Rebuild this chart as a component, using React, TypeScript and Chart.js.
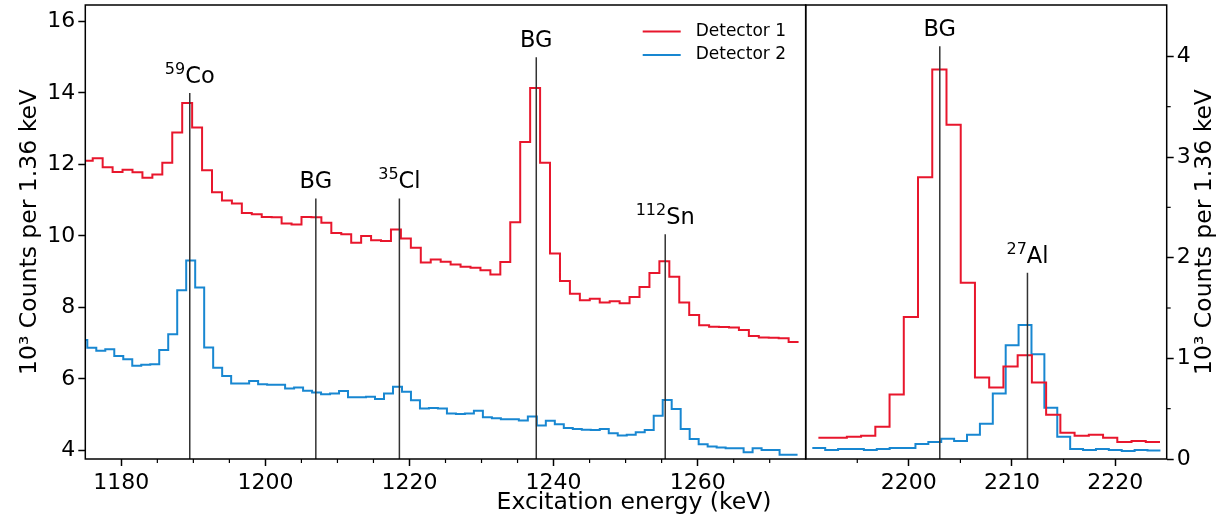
import React, { useEffect, useRef } from 'react';
import { Chart, registerables } from 'chart.js';

Chart.register(...registerables);

const FONT = "'DejaVu Sans', 'Liberation Sans', sans-serif";
const RED = '#e8162c';
const BLUE = '#1887d1';
const MARK = '#333333';

// ---------- Left panel data (keV, 10^3 counts per bin) ----------
const det1LeftStart = 1174.65;
const det1LeftWidth = 1.38;
const det1LeftCounts = [
  12.10, 12.17, 11.92, 11.79, 11.85, 11.78, 11.63, 11.72, 12.05, 12.89,
  13.72, 13.03, 11.84, 11.22, 10.99, 10.91, 10.64, 10.61, 10.53, 10.52,
  10.35, 10.32, 10.53, 10.52, 10.37, 10.08, 10.05, 9.81, 10.0, 9.88,
  9.86, 10.18, 9.93, 9.67, 9.26, 9.34, 9.28, 9.20, 9.14, 9.11,
  9.04, 8.92, 9.27, 10.38, 12.63, 14.14, 12.05, 9.51, 8.74, 8.38,
  8.20, 8.24, 8.14, 8.17, 8.12, 8.29, 8.57, 8.96, 9.29, 8.86,
  8.14, 7.79, 7.50, 7.46, 7.45, 7.44, 7.37, 7.20, 7.16, 7.15,
  7.14, 7.03,
];

const det2LeftStart = 1174.03;
const det2LeftWidth = 1.248;
const det2LeftCounts = [
  7.09, 6.87, 6.79, 6.83, 6.64, 6.55, 6.37, 6.40, 6.41, 6.81,
  7.25, 8.48, 9.31, 8.56, 6.88, 6.31, 6.08, 5.87, 5.87, 5.94,
  5.85, 5.84, 5.84, 5.73, 5.76, 5.67, 5.62, 5.57, 5.59, 5.66,
  5.49, 5.49, 5.50, 5.44, 5.59, 5.78, 5.64, 5.40, 5.17, 5.19,
  5.17, 5.03, 5.02, 5.03, 5.11, 4.93, 4.90, 4.87, 4.87, 4.84,
  4.95, 4.70, 4.83, 4.73, 4.63, 4.60, 4.58, 4.57, 4.60, 4.48,
  4.42, 4.44, 4.51, 4.57, 4.97, 5.41, 5.16, 4.60, 4.32, 4.17,
  4.11, 4.08, 4.06, 4.06, 3.95, 4.06, 4.01, 4.01, 3.88, 3.88,
];

// ---------- Right panel data ----------
const det1RightStart = 2191.23;
const det1RightWidth = 1.38;
const det1RightCounts = [
  0.21, 0.21, 0.22, 0.23, 0.32, 0.64, 1.41, 2.80, 3.87, 3.32,
  1.75, 0.81, 0.71, 0.92, 1.03, 0.76, 0.44, 0.26, 0.23, 0.24,
  0.21, 0.17, 0.18, 0.17,
];

const det2RightStart = 2190.64;
const det2RightWidth = 1.25;
const det2RightCounts = [
  0.11, 0.09, 0.10, 0.10, 0.09, 0.10, 0.11, 0.11, 0.15, 0.17,
  0.20, 0.18, 0.24, 0.35, 0.65, 1.13, 1.33, 1.04, 0.51, 0.22,
  0.10, 0.09, 0.10, 0.09, 0.08, 0.09, 0.085,
];

// ---------- Axes ----------
const leftXRange = [1175, 1275];
const leftYRange = [3.76, 16.46];
const leftXTicks = [1180, 1200, 1220, 1240, 1260];
const leftXMinor = [1185, 1190, 1195, 1205, 1210, 1215, 1225, 1230, 1235, 1245, 1250, 1255, 1265, 1270];
const leftYTicks = [4, 6, 8, 10, 12, 14, 16];

const rightXRange = [2190, 2225];
const rightYRange = [0, 4.51];
const rightXTicks = [2200, 2210, 2220];
const rightXMinor = [2195, 2205, 2215];
const rightYTicks = [0, 1, 2, 3, 4];
const rightYMinor = [0.5, 1.5, 2.5, 3.5];

// ---------- Annotations ----------
const leftMarkEnergy = [1189.5, 1207.0, 1218.6, 1237.6, 1255.5];
const leftMarkTop = [14.0, 11.05, 11.05, 15.0, 10.05];
const leftMarkMass = ['59', '', '35', '', '112'];
const leftMarkName = ['Co', 'BG', 'Cl', 'BG', 'Sn'];

const rightMarkEnergy = [2203.0, 2211.5];
const rightMarkTop = [4.10, 1.85];
const rightMarkMass = ['', '27'];
const rightMarkName = ['BG', 'Al'];

const seriesNames = ['Detector 1', 'Detector 2'];
const yTitle = '10³ Counts per 1.36 keV';
const xTitle = 'Excitation energy (keV)';

function steps(start: number, width: number, counts: number[]) {
  const pts = counts.map((c, i) => ({ x: start + i * width, y: c }));
  pts.push({ x: start + counts.length * width, y: counts[counts.length - 1] });
  return pts;
}

const W = 1226;
const H = 517;
const PLOT_TOP = 5;
const PLOT_BOTTOM = 459;
const SPLIT = 805.7;
const RIGHT_EDGE = 1166.7;

function drawRotated(ctx: CanvasRenderingContext2D, text: string, x: number, y: number, size: number) {
  ctx.save();
  ctx.translate(x, y);
  ctx.rotate(-Math.PI / 2);
  ctx.font = `${size}px ${FONT}`;
  ctx.fillStyle = '#000';
  ctx.textAlign = 'center';
  ctx.textBaseline = 'middle';
  ctx.fillText(text, 0, 0);
  ctx.restore();
}

function makeDecor(opts: {
  energy: number[]; top: number[]; mass: string[]; name: string[];
  xMinor: number[]; yMinor: number[]; yRight: boolean; legend: boolean;
}) {
  return {
    id: 'decor',
    afterDatasetsDraw(chart: any) {
      const { ctx, chartArea: a, scales } = chart;
      const x = scales.x;
      const y = scales.y;
      ctx.save();
      ctx.strokeStyle = MARK;
      ctx.lineWidth = 1.5;
      opts.energy.forEach((e, i) => {
        const px = x.getPixelForValue(e);
        const py = y.getPixelForValue(opts.top[i]);
        ctx.beginPath();
        ctx.moveTo(px, a.bottom);
        ctx.lineTo(px, py);
        ctx.stroke();
        ctx.fillStyle = '#000';
        ctx.textBaseline = 'alphabetic';
        ctx.textAlign = 'left';
        ctx.font = `16px ${FONT}`;
        const ws = opts.mass[i] ? ctx.measureText(opts.mass[i]).width : 0;
        ctx.font = `22.5px ${FONT}`;
        const wm = ctx.measureText(opts.name[i]).width;
        const x0 = px - (ws + wm) / 2;
        const base = py - 10;
        if (opts.mass[i]) {
          ctx.font = `16px ${FONT}`;
          ctx.fillText(opts.mass[i], x0, base - 9);
        }
        ctx.font = `22.5px ${FONT}`;
        ctx.fillText(opts.name[i], x0 + ws, base);
      });
      ctx.restore();
    },
    afterDraw(chart: any) {
      const { ctx, chartArea: a, scales } = chart;
      const x = scales.x;
      const y = scales.y;
      ctx.save();
      ctx.strokeStyle = '#000';
      ctx.lineWidth = 1.5;
      ctx.strokeRect(a.left, a.top, a.right - a.left, a.bottom - a.top);
      ctx.lineWidth = 1.2;
      opts.xMinor.forEach((v) => {
        const px = x.getPixelForValue(v);
        ctx.beginPath();
        ctx.moveTo(px, a.bottom);
        ctx.lineTo(px, a.bottom + 4);
        ctx.stroke();
      });
      opts.yMinor.forEach((v) => {
        const py = y.getPixelForValue(v);
        ctx.beginPath();
        if (opts.yRight) {
          ctx.moveTo(a.right, py);
          ctx.lineTo(a.right + 4, py);
        } else {
          ctx.moveTo(a.left, py);
          ctx.lineTo(a.left - 4, py);
        }
        ctx.stroke();
      });
      const cy = (a.top + a.bottom) / 2;
      if (opts.yRight) {
        drawRotated(ctx, yTitle, 1205, cy, 23.5);
      } else {
        drawRotated(ctx, yTitle, 30, cy, 23.5);
        ctx.font = `23.5px ${FONT}`;
        ctx.fillStyle = '#000';
        ctx.textAlign = 'center';
        ctx.textBaseline = 'middle';
        ctx.fillText(xTitle, 634, 503);
      }
      if (opts.legend) {
        const colors = [RED, BLUE];
        seriesNames.forEach((n, i) => {
          const ly = a.top + 26.5 + i * 23.5;
          ctx.strokeStyle = colors[i];
          ctx.lineWidth = 2;
          ctx.beginPath();
          ctx.moveTo(a.right - 163, ly);
          ctx.lineTo(a.right - 125, ly);
          ctx.stroke();
          ctx.font = `17px ${FONT}`;
          ctx.fillStyle = '#000';
          ctx.textAlign = 'left';
          ctx.textBaseline = 'middle';
          ctx.fillText(n, a.right - 110, ly);
        });
      }
      ctx.restore();
    },
  };
}

function tickFont() {
  return {
    font: { family: FONT, size: 22 },
    color: '#000',
    autoSkip: false,
    maxRotation: 0,
    callback: (v: any) => String(v),
  };
}

function axis(ticksArr: number[], range: number[], position: string, fit: (s: any) => void, pad: number) {
  return {
    type: 'linear',
    min: range[0],
    max: range[1],
    position,
    afterBuildTicks: (s: any) => {
      s.ticks = ticksArr.map((v) => ({ value: v }));
    },
    afterFit: (s: any) => {
      fit(s);
      s.paddingTop = 0;
      s.paddingBottom = 0;
      s.paddingLeft = 0;
      s.paddingRight = 0;
    },
    grid: {
      drawOnChartArea: false,
      drawTicks: true,
      tickLength: 7,
      tickWidth: 1.5,
      tickColor: '#000',
    },
    border: { display: false },
    ticks: { ...tickFont(), padding: pad },
  };
}

function dataset(label: string, color: string, pts: { x: number; y: number }[]) {
  return {
    label,
    data: pts,
    borderColor: color,
    backgroundColor: color,
    borderWidth: 2,
    stepped: 'before' as const,
    pointRadius: 0,
    fill: false,
    tension: 0,
  };
}

export default function App() {
  const leftRef = useRef<HTMLCanvasElement>(null);
  const rightRef = useRef<HTMLCanvasElement>(null);

  useEffect(() => {
    const left = new Chart(leftRef.current as HTMLCanvasElement, {
      type: 'line',
      data: {
        datasets: [
          dataset(seriesNames[0], RED, steps(det1LeftStart, det1LeftWidth, det1LeftCounts)),
          dataset(seriesNames[1], BLUE, steps(det2LeftStart, det2LeftWidth, det2LeftCounts)),
        ],
      },
      options: {
        animation: false,
        responsive: false,
        maintainAspectRatio: false,
        layout: { padding: { left: 0, right: W - SPLIT, top: PLOT_TOP, bottom: 0 } },
        plugins: { legend: { display: false }, tooltip: { enabled: false } },
        scales: {
          x: axis(leftXTicks, leftXRange, 'bottom', (s) => { s.height = H - PLOT_BOTTOM; }, 4),
          y: axis(leftYTicks, leftYRange, 'left', (s) => { s.width = 85.3; }, 3),
        },
      } as any,
      plugins: [makeDecor({
        energy: leftMarkEnergy, top: leftMarkTop, mass: leftMarkMass, name: leftMarkName,
        xMinor: leftXMinor, yMinor: [], yRight: false, legend: true,
      })],
    });

    const right = new Chart(rightRef.current as HTMLCanvasElement, {
      type: 'line',
      data: {
        datasets: [
          dataset(seriesNames[0], RED, steps(det1RightStart, det1RightWidth, det1RightCounts)),
          dataset(seriesNames[1], BLUE, steps(det2RightStart, det2RightWidth, det2RightCounts)),
        ],
      },
      options: {
        animation: false,
        responsive: false,
        maintainAspectRatio: false,
        layout: { padding: { left: SPLIT, right: 0, top: PLOT_TOP, bottom: 0 } },
        plugins: { legend: { display: false }, tooltip: { enabled: false } },
        scales: {
          x: axis(rightXTicks, rightXRange, 'bottom', (s) => { s.height = H - PLOT_BOTTOM; }, 4),
          y: axis(rightYTicks, rightYRange, 'right', (s) => { s.width = W - RIGHT_EDGE; }, 3),
        },
      } as any,
      plugins: [makeDecor({
        energy: rightMarkEnergy, top: rightMarkTop, mass: rightMarkMass, name: rightMarkName,
        xMinor: rightXMinor, yMinor: rightYMinor, yRight: true, legend: false,
      })],
    });

    return () => {
      left.destroy();
      right.destroy();
    };
  }, []);

  const cs: React.CSSProperties = { position: 'absolute', left: 0, top: 0, width: W, height: H };
  return (
    <div style={{ position: 'absolute', left: 0, top: 0, width: W, height: H, background: '#fff' }}>
      <canvas ref={leftRef} width={W} height={H} style={cs} />
      <canvas ref={rightRef} width={W} height={H} style={cs} />
    </div>
  );
}
